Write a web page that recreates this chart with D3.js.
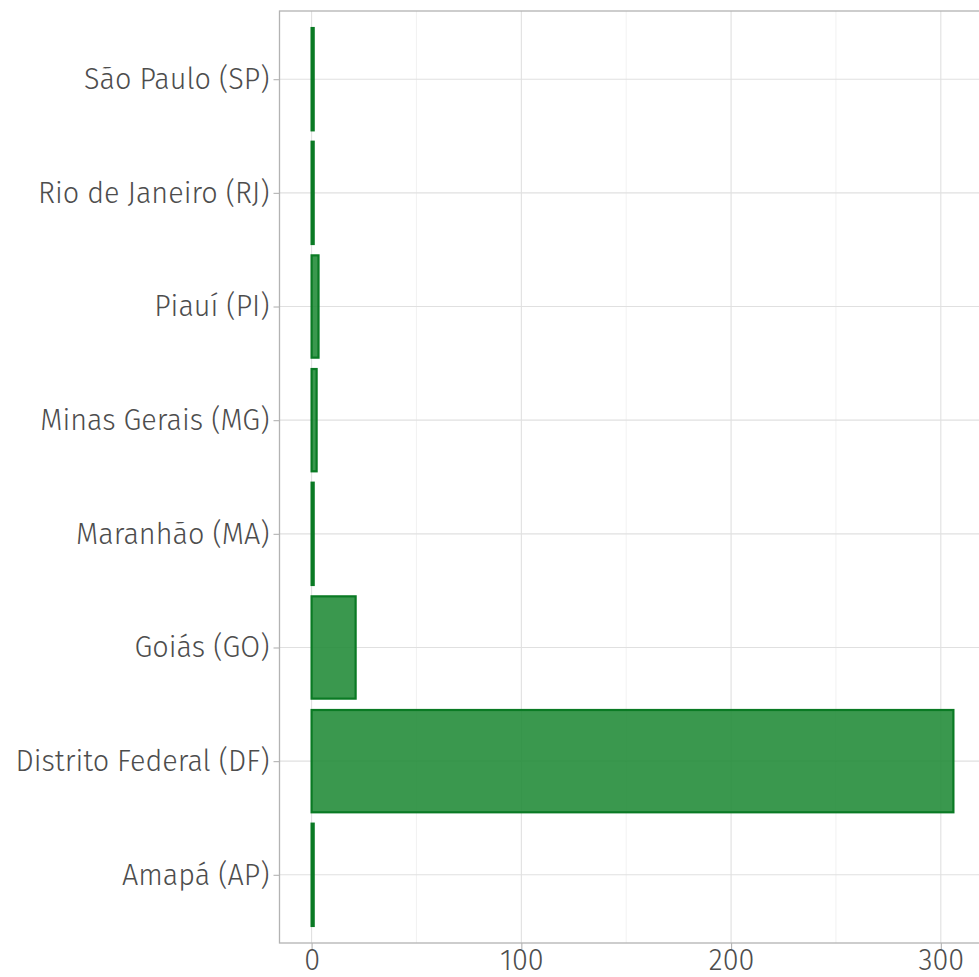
<!DOCTYPE html>
<html>
<head>
<meta charset="utf-8">
<script src="https://cdn.jsdelivr.net/npm/d3@7"></script>
<style>
  body { margin: 0; background: #fff; }
  svg { display: block; }
  text { font-family: "Fira Sans", "Open Sans", "Noto Sans", sans-serif; font-weight: 300; }
</style>
</head>
<body>
<svg id="chart" width="979" height="977"></svg>
<script>
// states from top to bottom and their values
var states = ["São Paulo (SP)", "Rio de Janeiro (RJ)", "Piauí (PI)", "Minas Gerais (MG)",
	"Maranhão (MA)", "Goiás (GO)", "Distrito Federal (DF)", "Amapá (AP)"];
var values = [1, 1, 3.3, 2.4, 1, 21, 306, 1];
var xTicks = [0, 100, 200, 300];
var xMinor = [50, 150, 250];

var margin = {top: 11, left: 279.5, bottom: 34},
	width = 706,
	height = 977 - margin.top - margin.bottom;

var maxV = d3.max(values);
var x = d3.scaleLinear()
	.domain([-0.05 * maxV, 1.05 * maxV])
	.range([0, width]);
var y = d3.scalePoint()
	.domain(states)
	.range([0, height])
	.padding(0.6);
var barH = y.step() * 0.9;

var svg = d3.select("#chart");
var g = svg.append("g")
	.attr("transform", "translate(" + margin.left + "," + margin.top + ")");

// grid
g.selectAll(".minor").data(xMinor).enter().append("line")
	.attr("x1", function(d) { return x(d); }).attr("x2", function(d) { return x(d); })
	.attr("y1", 0).attr("y2", height)
	.attr("stroke", "#ededed").attr("stroke-width", 0.7);
g.selectAll(".major").data(xTicks).enter().append("line")
	.attr("x1", function(d) { return x(d); }).attr("x2", function(d) { return x(d); })
	.attr("y1", 0).attr("y2", height)
	.attr("stroke", "#e0e0e0").attr("stroke-width", 1.1);
g.selectAll(".hgrid").data(states).enter().append("line")
	.attr("x1", 0).attr("x2", width)
	.attr("y1", function(d) { return y(d); }).attr("y2", function(d) { return y(d); })
	.attr("stroke", "#e0e0e0").attr("stroke-width", 1.1);

// bars
g.selectAll(".bar").data(values).enter().append("rect")
	.attr("x", x(0))
	.attr("y", function(d, i) { return y(states[i]) - barH / 2; })
	.attr("width", function(d) { return x(d) - x(0); })
	.attr("height", barH)
	.attr("fill", "#1f8a36")
	.attr("fill-opacity", 0.88)
	.attr("stroke", "#0a7a24")
	.attr("stroke-width", 2.2);

// border
g.append("rect")
	.attr("x", 0).attr("y", 0)
	.attr("width", width).attr("height", height)
	.attr("fill", "none")
	.attr("stroke", "#b3b3b3").attr("stroke-width", 1.3);

// axes
var xAxis = g.append("g")
	.attr("transform", "translate(0," + height + ")")
	.call(d3.axisBottom(x).tickValues(xTicks).tickSize(6).tickPadding(1));
var yAxis = g.append("g")
	.call(d3.axisLeft(y).tickSize(6).tickPadding(4));

[xAxis, yAxis].forEach(function(a) {
	a.select(".domain").remove();
	a.selectAll(".tick line").attr("stroke", "#b3b3b3").attr("stroke-width", 1.1);
	a.selectAll("text").attr("fill", "#4d4d4d").style("font-size", "28.8px");
});
</script>
</body>
</html>
